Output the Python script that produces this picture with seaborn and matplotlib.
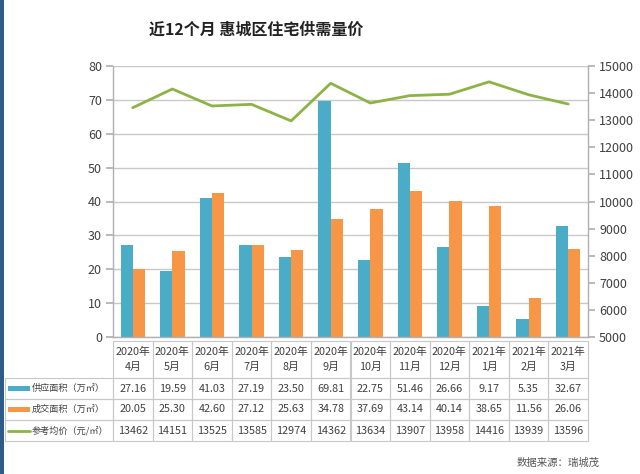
import numpy as np
import pandas as pd
import matplotlib
matplotlib.use("Agg")
import matplotlib.pyplot as plt
import matplotlib.transforms as mtransforms
from matplotlib.patches import Rectangle
from matplotlib.lines import Line2D
import seaborn as sns

months = ["2020年\n4月", "2020年\n5月", "2020年\n6月", "2020年\n7月", "2020年\n8月", "2020年\n9月",
          "2020年\n10月", "2020年\n11月", "2020年\n12月", "2021年\n1月", "2021年\n2月", "2021年\n3月"]
supply = [27.16, 19.59, 41.03, 27.19, 23.50, 69.81, 22.75, 51.46, 26.66, 9.17, 5.35, 32.67]
deal = [20.05, 25.30, 42.60, 27.12, 25.63, 34.78, 37.69, 43.14, 40.14, 38.65, 11.56, 26.06]
price = [13462, 14151, 13525, 13585, 12974, 14362, 13634, 13907, 13958, 14416, 13939, 13596]
price_labels = ["13462", "14151", "13525", "13585", "12974", "14362", "13634", "13907", "13958", "14416", "13939", "13596"]
series_names = ["供应面积（万㎡）", "成交面积（万㎡）", "参考均价（元/㎡）"]

BLUE = "#4aacc6"
ORANGE = "#f79646"
GREEN = "#8db346"
GRID = "#c8c8c8"
TXT = "#404040"

sns.set_theme(style="white")
plt.rcParams["font.family"] = ["Noto Sans CJK SC", "DejaVu Sans"]

fig = plt.figure(figsize=(6.4, 4.74), dpi=100)
W, H = 640, 474
L, R, T, B = 113, 588, 66, 337
ax = fig.add_axes([L / W, 1 - B / H, (R - L) / W, (B - T) / H])

df = pd.DataFrame({
    "month": months * 2,
    "value": supply + deal,
    "series": [series_names[0]] * 12 + [series_names[1]] * 12,
})
sns.barplot(data=df, x="month", y="value", hue="series", palette=[BLUE, ORANGE],
            width=0.62, ax=ax, legend=False, saturation=1, edgecolor="none")
ax.set_ylim(0, 80)
ax.set_yticks(range(0, 81, 10))
ax.set_xlim(-0.5, len(months) - 0.5)
ax.set_xlabel("")
ax.set_ylabel("")
ax.set_xticks([])
ax.yaxis.grid(True, color=GRID, linewidth=1)
ax.set_axisbelow(True)
for s in ["left", "right", "bottom", "top"]:
    ax.spines[s].set_color("#b0b0b0")
    ax.spines[s].set_linewidth(1)
ax.spines["top"].set_visible(False)
ax.tick_params(axis="y", which="both", left=True, length=5, color="#b0b0b0",
               labelsize=9, labelcolor=TXT, pad=3)

ax2 = ax.twinx()
sns.lineplot(x=np.arange(len(months)), y=price, color=GREEN, linewidth=2, ax=ax2)
ax2.set_ylim(5000, 15000)
ax2.set_yticks(range(5000, 15001, 1000))
ax2.set_ylabel("")
for s in ["left", "right", "bottom", "top"]:
    ax2.spines[s].set_visible(False)
ax2.tick_params(axis="y", which="both", right=True, length=5, color="#b0b0b0",
                labelsize=9, labelcolor=TXT, pad=3)
ax2.grid(False)

# data table under the plot
tr = mtransforms.blended_transform_factory(ax.transData, ax.transAxes)
tra = ax.transAxes
ph = B - T
def ya(px):
    return (B - px) / ph
def xa(px):
    return (px - L) / (R - L)

rows_px = [341, 378, 399, 420, 441]
lw = 0.8
# column cells
for i, m in enumerate(months):
    for r in range(4):
        y0, y1 = ya(rows_px[r + 1]), ya(rows_px[r])
        ax.add_patch(Rectangle((i - 0.5, y0), 1, y1 - y0, transform=tr, fill=False,
                               edgecolor=GRID, linewidth=lw, clip_on=False))
    ax.text(i, ya((rows_px[0] + rows_px[1]) / 2), m, transform=tr, ha="center", va="center",
            fontsize=7.8, color=TXT, linespacing=1.6, clip_on=False)
    vals = [f"{supply[i]:.2f}", f"{deal[i]:.2f}", price_labels[i]]
    for r in range(3):
        ax.text(i, ya((rows_px[r + 1] + rows_px[r + 2]) / 2), vals[r], transform=tr,
                ha="center", va="center", fontsize=7.8, color=TXT, clip_on=False)

# row label cells
xl0 = xa(5)
for r in range(3):
    y0, y1 = ya(rows_px[r + 2]), ya(rows_px[r + 1])
    ax.add_patch(Rectangle((xl0, y0), xa(L) - xl0, y1 - y0, transform=tra, fill=False,
                           edgecolor=GRID, linewidth=lw, clip_on=False))
    ym = (y0 + y1) / 2
    if r < 2:
        col = [BLUE, ORANGE][r]
        ax.add_patch(Rectangle((xa(8), ym - 0.011), xa(30) - xa(8), 0.022, transform=tra,
                               facecolor=col, edgecolor="none", clip_on=False))
    else:
        ax.add_line(Line2D([xa(8), xa(30)], [ym, ym], transform=tra, color=GREEN,
                           linewidth=2, clip_on=False))
    ax.text(xa(32), ym, series_names[r], transform=tra, ha="left", va="center",
            fontsize=6.6, color=TXT, clip_on=False)

# title
fig.text(256 / W, 1 - 30 / H, "近12个月 惠城区住宅供需量价", ha="center", va="center",
         fontsize=11.5, fontweight="bold", color="#222222")

# source
fig.text(600 / W, 1 - 463 / H, "数据来源：瑞城茂", ha="right", va="center",
         fontsize=7.5, color="#555555")

# left blue stripe
fig.add_artist(Rectangle((0, 0), 4 / W, 1, transform=fig.transFigure,
                         facecolor="#2f5b8a", edgecolor="none"))

fig.savefig("out.png", dpi=100, facecolor="white")
